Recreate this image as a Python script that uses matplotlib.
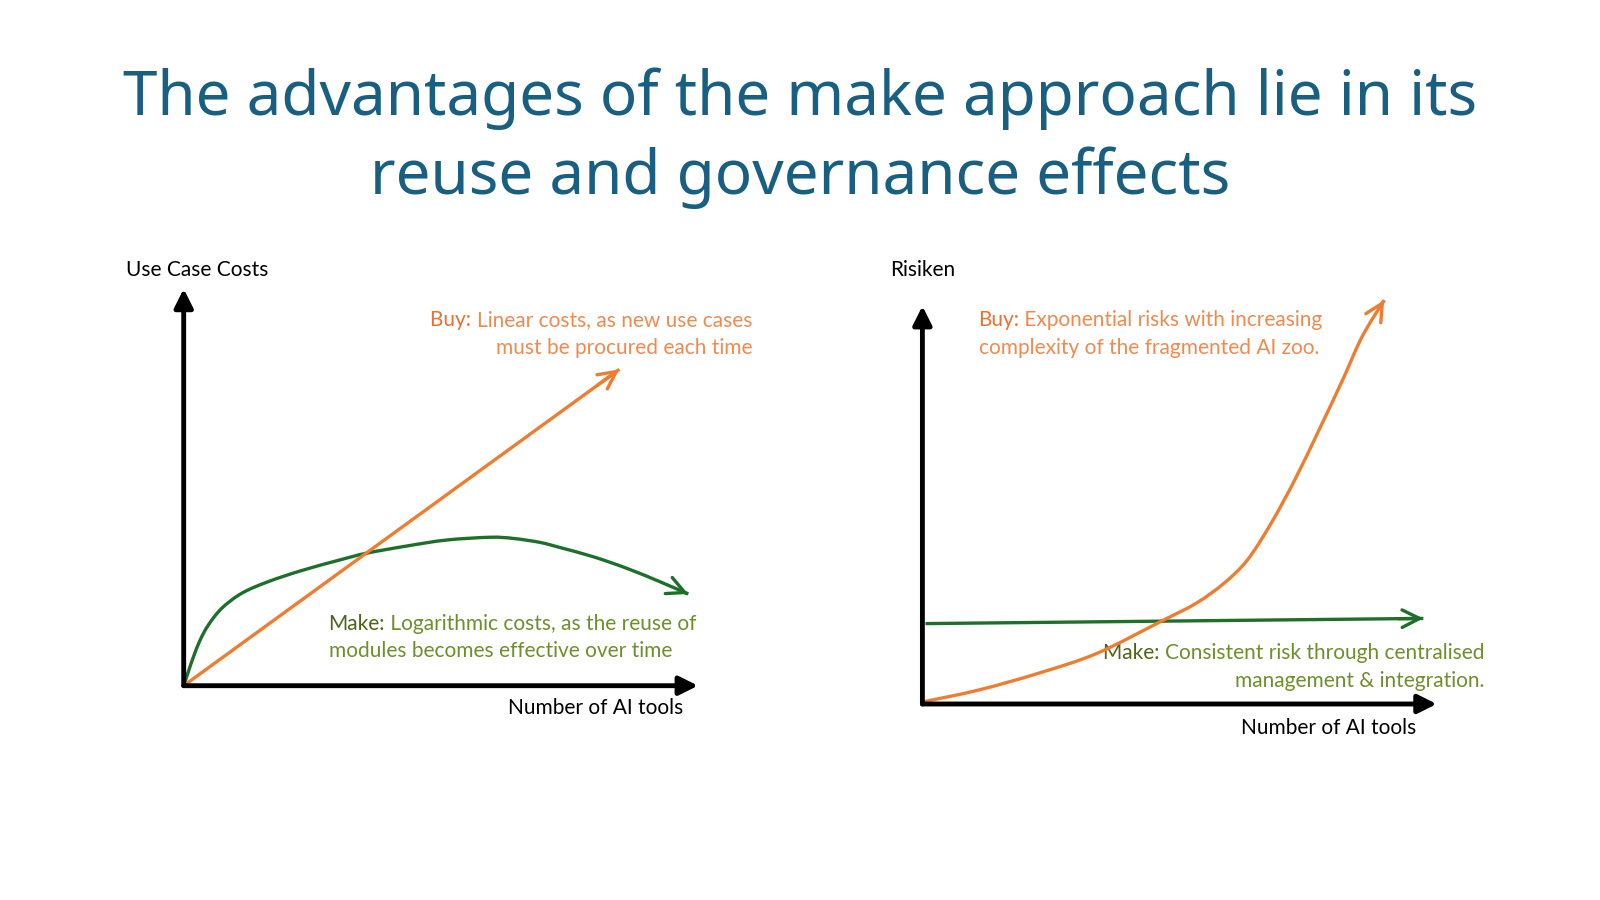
import matplotlib
matplotlib.use("Agg")
from matplotlib import pyplot as plt
from matplotlib.path import Path
from matplotlib.patches import PathPatch

# ---- data (arbitrary units, 0..100 = length of the axis arrows) ----
buy_cost_x = [0, 84.7]
buy_cost_y = [0, 79.7]

make_cost_x = [0, 0.9, 1.9, 3.2, 4.8, 7.4, 11.3, 16.4, 22.9, 30.4, 35.6, 43.4, 51.1,
               59.6, 64.1, 69.3, 73.2, 79.6, 86.1, 92.6, 98.1]
make_cost_y = [0, 3.5, 7.3, 11.5, 15.3, 19.5, 23.3, 26.2, 29.0, 31.7, 33.4, 35.2, 36.7,
               37.4, 37.1, 36.1, 34.8, 32.5, 29.6, 26.2, 23.1]

buy_risk_x = [0, 10.9, 22.5, 33.9, 46.3, 53.2, 58.6, 63.2, 67.8, 72.4, 77.1, 81.7, 85.5, 89.8]
buy_risk_y = [0.5, 3.5, 7.7, 12.7, 20.7, 25.3, 30.3, 36.2, 45.4, 56.3, 68.8, 81.4, 92.3, 101.5]

make_risk_x = [0.6, 97.4]
make_risk_y = [20.2, 21.5]

ORANGE = "#ED7D31"
GREEN = "#1E6F2A"
BUY_HEAD = "#E97132"
BUY_TXT = "#F08A50"
MAKE_HEAD = "#4E6516"
MAKE_TXT = "#6F8E2C"
TITLE_C = "#185F82"
FONT = ["Lato", "DejaVu Sans"]

fig = plt.figure(figsize=(16, 9), dpi=100)
fig.patch.set_facecolor("white")

# overlay in pixel coordinates for texts
bg = fig.add_axes([0, 0, 1, 1])
bg.set_xlim(0, 1600)
bg.set_ylim(900, 0)
bg.axis("off")

fig.text(0.5, 1 - 115 / 900, "The advantages of the make approach lie in its",
         ha="center", va="baseline", fontsize=44.6, color=TITLE_C, family=["Noto Sans", "DejaVu Sans"])
fig.text(0.5, 1 - 194 / 900, "reuse and governance effects",
         ha="center", va="baseline", fontsize=44.6, color=TITLE_C, family=["Noto Sans", "DejaVu Sans"])


def axis_arrows(ax, xstart=0):
    kw = dict(arrowstyle="-|>,head_length=0.8,head_width=0.4", color="black", lw=3.5,
              shrinkA=0, shrinkB=0, mutation_scale=14)
    ax.annotate("", xy=(100, 0), xytext=(xstart, 0), arrowprops=kw, annotation_clip=False)
    ax.annotate("", xy=(0, 100), xytext=(0, 0), arrowprops=kw, annotation_clip=False)


def curve(ax, xs, ys, color):
    pts = list(zip(xs, ys))
    n = len(pts)
    # smooth bezier through the read points (Catmull-Rom handles)
    verts = [pts[0]]
    codes = [Path.MOVETO]
    for i in range(n - 1):
        p0 = pts[max(i - 1, 0)]
        p1, p2 = pts[i], pts[i + 1]
        p3 = pts[min(i + 2, n - 1)]
        c1 = (p1[0] + (p2[0] - p0[0]) / 6, p1[1] + (p2[1] - p0[1]) / 6)
        c2 = (p2[0] - (p3[0] - p1[0]) / 6, p2[1] - (p3[1] - p1[1]) / 6)
        verts += [c1, c2, p2]
        codes += [Path.CURVE4] * 3
    ax.add_patch(PathPatch(Path(verts, codes), facecolor="none", edgecolor=color,
                           lw=2.4, capstyle="butt", clip_on=False))
    # arrow head along the end tangent
    (ax_, ay_), (bx, by) = pts[-2], pts[-1]
    back = (bx - 0.05 * (bx - ax_), by - 0.05 * (by - ay_))
    ax.annotate("", xy=(bx, by), xytext=back,
                arrowprops=dict(arrowstyle="->,head_length=0.7,head_width=0.35", color=color,
                                lw=2.4, shrinkA=0, shrinkB=0, mutation_scale=18),
                annotation_clip=False)


def two_tone(x, y, head, rest, c_head, c_rest, align):
    fs = 15
    if align == "left":
        t = bg.text(x, y, head, ha="left", va="baseline", fontsize=fs, color=c_head, family=FONT)
        bg.annotate(" " + rest, xy=(1, 0), xycoords=t, ha="left", va="bottom",
                    fontsize=fs, color=c_rest, family=FONT)
    else:
        t = bg.text(x, y, rest, ha="right", va="baseline", fontsize=fs, color=c_rest, family=FONT)
        bg.annotate(head + " ", xy=(0, 0), xycoords=t, ha="right", va="bottom",
                    fontsize=fs, color=c_head, family=FONT)


def plain(x, y, s, color, align):
    bg.text(x, y, s, ha=align, va="baseline", fontsize=15, color=color, family=FONT)


# ---- left chart: costs ----
axL = fig.add_axes([183.7 / 1600, 1 - 685.7 / 900, 514.3 / 1600, 396.9 / 900])
axL.set_xlim(0, 100)
axL.set_ylim(0, 100)
axL.axis("off")
curve(axL, make_cost_x, make_cost_y, GREEN)
curve(axL, buy_cost_x, buy_cost_y, ORANGE)
axis_arrows(axL)

plain(125.5, 275.5, "Use Case Costs", "black", "left")
plain(683.7, 714, "Number of AI tools", "black", "right")
two_tone(752, 326.5, "Buy:", "Linear costs, as new use cases", BUY_HEAD, BUY_TXT, "right")
plain(752, 354, "must be procured each time", BUY_TXT, "right")
two_tone(328.6, 629.6, "Make:", "Logarithmic costs, as the reuse of", MAKE_HEAD, MAKE_TXT, "left")
plain(328.6, 657, "modules becomes effective over time", MAKE_TXT, "left")

# ---- right chart: risks ----
axR = fig.add_axes([922.4 / 1600, 1 - 704 / 900, 514.3 / 1600, 398 / 900])
axR.set_xlim(0, 100)
axR.set_ylim(0, 100)
axR.axis("off")
curve(axR, make_risk_x, make_risk_y, GREEN)
curve(axR, buy_risk_x, buy_risk_y, ORANGE)
axis_arrows(axR)

plain(889.8, 275.5, "Risiken", "black", "left")
plain(1416, 733.7, "Number of AI tools", "black", "right")
two_tone(978.6, 326.5, "Buy:", "Exponential risks with increasing", BUY_HEAD, BUY_TXT, "left")
plain(978.6, 354, "complexity of the fragmented AI zoo.", BUY_TXT, "left")
two_tone(1484.7, 659, "Make:", "Consistent risk through centralised", MAKE_HEAD, MAKE_TXT, "right")
plain(1484.7, 686.7, "management & integration.", MAKE_TXT, "right")

fig.savefig("out.png", dpi=100, facecolor="white")
